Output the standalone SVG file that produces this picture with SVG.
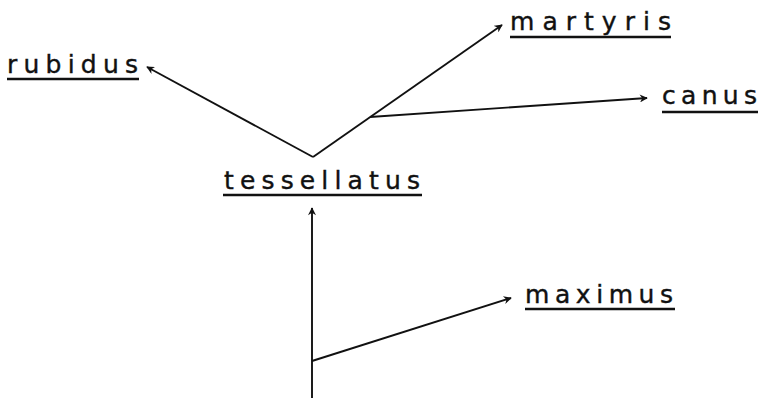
<svg xmlns="http://www.w3.org/2000/svg" width="772" height="400" viewBox="0 0 772 400">
  <style>
    .lbl { font-family: "DejaVu Sans", "Liberation Sans", sans-serif; font-size: 25px; fill: #111; stroke: #111; stroke-width: 0.4; }
    .ul { stroke: #111; stroke-width: 2.4; fill: none; }
    .edge { stroke: #111; stroke-width: 1.9; fill: none; }
  </style>
  <defs>
    <marker id="arrow" viewBox="0 0 10 10" refX="9" refY="5" markerWidth="9" markerHeight="8" markerUnits="userSpaceOnUse" orient="auto">
      <path d="M0,0 L10,5 L0,10 L3,5 Z" fill="#111"/>
    </marker>
  </defs>
  <rect width="772" height="400" fill="#fff"/>

  <g id="connectors">
    <!-- fork above tessellatus -->
    <path class="edge" d="M313,157 L147,67" marker-end="url(#arrow)"/>
    <path class="edge" d="M313,157 L502,25" marker-end="url(#arrow)"/>
    <path class="edge" d="M370,117 L647,98" marker-end="url(#arrow)"/>
    <!-- trunk below tessellatus -->
    <path class="edge" d="M312,398 L312,208" marker-end="url(#arrow)"/>
    <path class="edge" d="M312,361 L511,298" marker-end="url(#arrow)"/>
  </g>

  <g id="rubidus">
    <text class="lbl" x="7" y="73" textLength="131" lengthAdjust="spacing">rubidus</text>
    <line class="ul" x1="7" y1="79" x2="139" y2="79"/>
  </g>
  <g id="martyris">
    <text class="lbl" x="510" y="30" textLength="161" lengthAdjust="spacing">martyris</text>
    <line class="ul" x1="510" y1="37" x2="671" y2="37"/>
  </g>
  <g id="canus">
    <text class="lbl" x="662" y="104" textLength="95" lengthAdjust="spacing">canus</text>
    <line class="ul" x1="662" y1="112" x2="758" y2="112"/>
  </g>
  <g id="tessellatus">
    <text class="lbl" x="224" y="189" textLength="196" lengthAdjust="spacing">tessellatus</text>
    <line class="ul" x1="223" y1="195" x2="422" y2="195"/>
  </g>
  <g id="maximus">
    <text class="lbl" x="525" y="303" textLength="148" lengthAdjust="spacing">maximus</text>
    <line class="ul" x1="525" y1="309" x2="675" y2="309"/>
  </g>
</svg>
